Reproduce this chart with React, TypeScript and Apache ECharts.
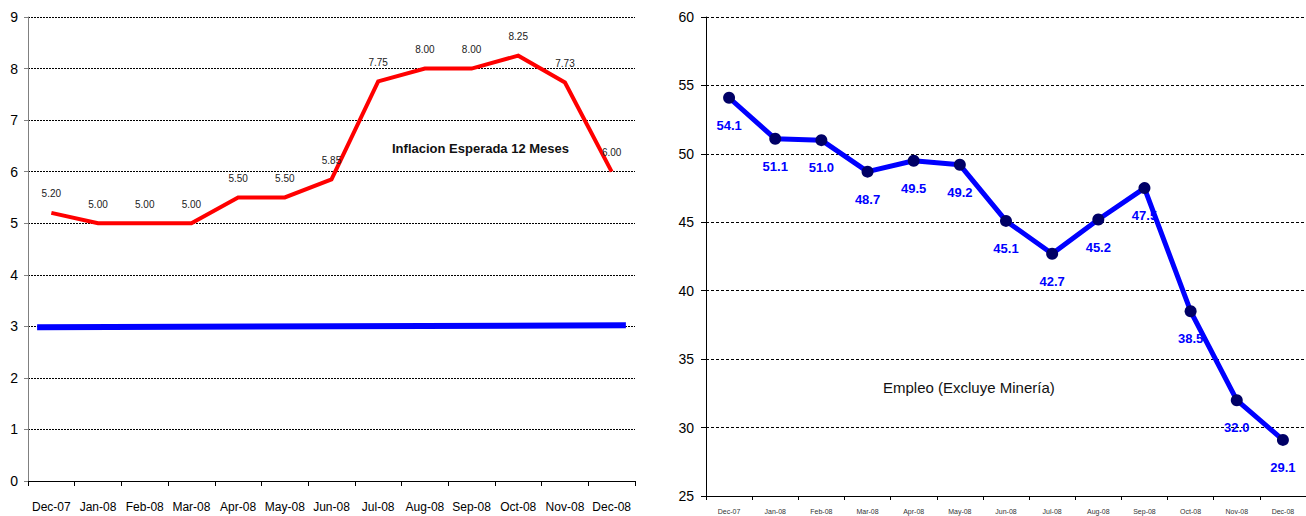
import React, { useEffect, useRef } from "react";
import * as echarts from "echarts";

const categories = ["Dec-07", "Jan-08", "Feb-08", "Mar-08", "Apr-08", "May-08", "Jun-08", "Jul-08", "Aug-08", "Sep-08", "Oct-08", "Nov-08", "Dec-08"];
const inflacionEsperada = [5.2, 5.0, 5.0, 5.0, 5.5, 5.5, 5.85, 7.75, 8.0, 8.0, 8.25, 7.73, 6.0];
const metaInflacion: [number, number][] = [[1.5, 2.98], [98.5, 3.02]];
const empleo = [54.1, 51.1, 51.0, 48.7, 49.5, 49.2, 45.1, 42.7, 45.2, 47.5, 38.5, 32.0, 29.1];
const leftTitle = "Inflacion Esperada 12 Meses";
const rightTitle = "Empleo (Excluye Minería)";

const NARROW = "'Liberation Sans Narrow', 'Arial Narrow', Arial, sans-serif";
const ARIAL = "'Liberation Sans', Arial, sans-serif";

export default function App() {
  const ref = useRef<HTMLDivElement>(null);
  useEffect(() => {
    if (!ref.current) return;
    const chart = echarts.init(ref.current, null, { renderer: "svg" });
    chart.setOption({
      animation: false,
      backgroundColor: "#ffffff",
      grid: [
        { left: 28, top: 17, width: 607, height: 464 },
        { left: 706, top: 17, width: 600, height: 479 },
      ],
      xAxis: [
        {
          gridIndex: 0,
          type: "category",
          data: categories,
          boundaryGap: true,
          axisLine: { lineStyle: { color: "#000", width: 1 } },
          axisTick: { show: true, length: 5, lineStyle: { color: "#000" } },
          axisLabel: { margin: 20, fontSize: 12, color: "#000", fontFamily: NARROW, interval: 0 },
          splitLine: { show: false },
        },
        {
          gridIndex: 0,
          type: "value",
          min: 0,
          max: 100,
          show: false,
        },
        {
          gridIndex: 1,
          type: "category",
          data: categories,
          boundaryGap: true,
          axisLine: { lineStyle: { color: "#000", width: 1 } },
          axisTick: { show: true, length: 4, lineStyle: { color: "#000" } },
          axisLabel: { margin: 12, fontSize: 7, color: "#333", fontFamily: ARIAL, interval: 0 },
          splitLine: { show: false },
        },
      ],
      yAxis: [
        {
          gridIndex: 0,
          type: "value",
          min: 0,
          max: 9,
          interval: 1,
          axisLine: { show: true, lineStyle: { color: "#808080", width: 1 } },
          axisTick: { show: true, length: 4, lineStyle: { color: "#808080" } },
          axisLabel: { margin: 10, fontSize: 14, color: "#000", fontFamily: NARROW },
          splitLine: { show: true, lineStyle: { color: "#000", type: [2, 1], width: 1 } },
        },
        {
          gridIndex: 1,
          type: "value",
          min: 25,
          max: 60,
          interval: 5,
          axisLine: { show: true, lineStyle: { color: "#000", width: 1 } },
          axisTick: { show: true, length: 5, lineStyle: { color: "#000" } },
          axisLabel: { margin: 12, fontSize: 14, color: "#000", fontFamily: ARIAL },
          splitLine: { show: true, lineStyle: { color: "#000", type: [3, 2], width: 1 } },
        },
      ],
      series: [
        {
          type: "line",
          xAxisIndex: 1,
          yAxisIndex: 0,
          data: metaInflacion,
          showSymbol: false,
          symbol: "none",
          lineStyle: { color: "#0000ff", width: 6, cap: "butt" },
          z: 3,
        },
        {
          type: "line",
          xAxisIndex: 0,
          yAxisIndex: 0,
          data: inflacionEsperada,
          symbol: "circle",
          symbolSize: 2,
          showSymbol: true,
          showAllSymbol: true,
          itemStyle: { color: "rgba(255,0,0,0)", borderWidth: 0 },
          lineStyle: { color: "#ff0000", width: 4, join: "miter" },
          label: {
            show: true,
            position: "top",
            distance: 13,
            fontSize: 10,
            color: "#222",
            opacity: 1,
            fontFamily: NARROW,
            formatter: (p: any) => Number(p.value).toFixed(2),
          },
          labelLayout: { hideOverlap: false },
          z: 4,
        },
        {
          type: "line",
          xAxisIndex: 2,
          yAxisIndex: 1,
          data: empleo,
          symbol: "circle",
          symbolSize: 12,
          showAllSymbol: true,
          itemStyle: { color: "#000066", borderWidth: 0 },
          lineStyle: { color: "#0000ff", width: 5 },
          label: {
            show: true,
            position: "bottom",
            distance: 15,
            fontSize: 13,
            fontWeight: "bold",
            color: "#0000ff",
            fontFamily: ARIAL,
            formatter: (p: any) => Number(p.value).toFixed(1),
          },
          z: 4,
        },
      ],
      graphic: [
        {
          type: "text",
          left: 482 - 90,
          top: 142,
          style: {
            text: leftTitle,
            fontSize: 13,
            fontWeight: "bold",
            fill: "#111",
            fontFamily: NARROW,
          },
          z: 10,
        },
        {
          type: "text",
          left: 978 - 95,
          top: 380,
          style: {
            text: rightTitle,
            fontSize: 15,
            fill: "#111",
            fontFamily: ARIAL,
          },
          z: 10,
        },
      ],
    });
    return () => chart.dispose();
  }, []);
  return (
    <div
      ref={ref}
      style={{ position: "fixed", left: 0, top: 0, width: 1306, height: 516, background: "#fff" }}
    />
  );
}
